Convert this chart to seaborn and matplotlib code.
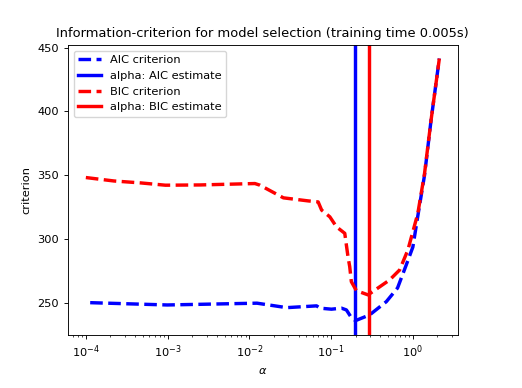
import matplotlib
matplotlib.use("Agg")
import matplotlib.pyplot as plt
import seaborn as sns

# Valores
aic_alphas = [1.13e-4, 9.9e-4, 0.0124, 0.0286, 0.0665, 0.073, 0.101, 0.134,
              0.154, 0.182, 0.200, 0.296, 0.474, 0.65, 0.83, 1.0, 1.15, 1.39,
              1.67, 2.11]
aic_values = [250.2, 248.4, 249.8, 246.3, 247.7, 245.9, 245.1, 245.9,
              244.5, 237.3, 236.2, 240.6, 251.0, 261.7, 279.7, 293.7, 318.0,
              350.0, 393.0, 441.4]

bic_alphas = [1.0e-4, 2.21e-4, 4.68e-4, 9.4e-4, 2.5e-3, 0.0117, 0.0135,
              0.0261, 0.0525, 0.0695, 0.0766, 0.0966, 0.1164, 0.147, 0.161,
              0.169, 0.177, 0.204, 0.283, 0.52, 0.689, 0.869, 1.15, 1.39,
              1.67, 2.11]
bic_values = [348.2, 345.5, 344.0, 342.2, 342.4, 343.5, 342.2,
              332.3, 329.9, 329.1, 322.7, 317.4, 309.6, 304.5, 286.2,
              278.4, 266.6, 259.6, 256.3, 268.0, 275.8, 291.4, 320.0, 351.3,
              393.0, 441.4]

aic_alpha_est = 0.197
bic_alpha_est = 0.29
title = "Information-criterion for model selection (training time 0.005s)"

# Estilo por defecto de matplotlib (ejes negros, sin rejilla)
plt.rcParams.update({"font.size": 8.2, "font.family": ["DejaVu Sans"],
                     "axes.linewidth": 0.65, "xtick.major.width": 0.65,
                     "ytick.major.width": 0.65, "xtick.minor.width": 0.5,
                     "xtick.major.size": 2.9, "ytick.major.size": 2.9,
                     "xtick.minor.size": 1.6})

fig, ax = plt.subplots(figsize=(5.22, 3.88), dpi=100)
fig.subplots_adjust(left=0.130, right=0.877, top=0.884, bottom=0.137)

lw = 2.45
sns.lineplot(x=aic_alphas, y=aic_values, ax=ax, color="blue", lw=lw,
             linestyle="--", label="AIC criterion", sort=False)
ax.axvline(aic_alpha_est, color="blue", lw=lw, label="alpha: AIC estimate")
sns.lineplot(x=bic_alphas, y=bic_values, ax=ax, color="red", lw=lw,
             linestyle="--", label="BIC criterion", sort=False)
ax.axvline(bic_alpha_est, color="red", lw=lw, label="alpha: BIC estimate")

ax.set_xscale("log")
ax.set_xlim(10 ** -4.22, 10 ** 0.55)
ax.set_ylim(225, 452)
ax.set_yticks([250, 300, 350, 400, 450])
ax.set_xlabel(r"$\alpha$")
ax.set_ylabel("criterion")
ax.set_title(title, fontsize=9.4)
ax.legend(loc="upper left")

fig.savefig("out.png")
plt.close(fig)
